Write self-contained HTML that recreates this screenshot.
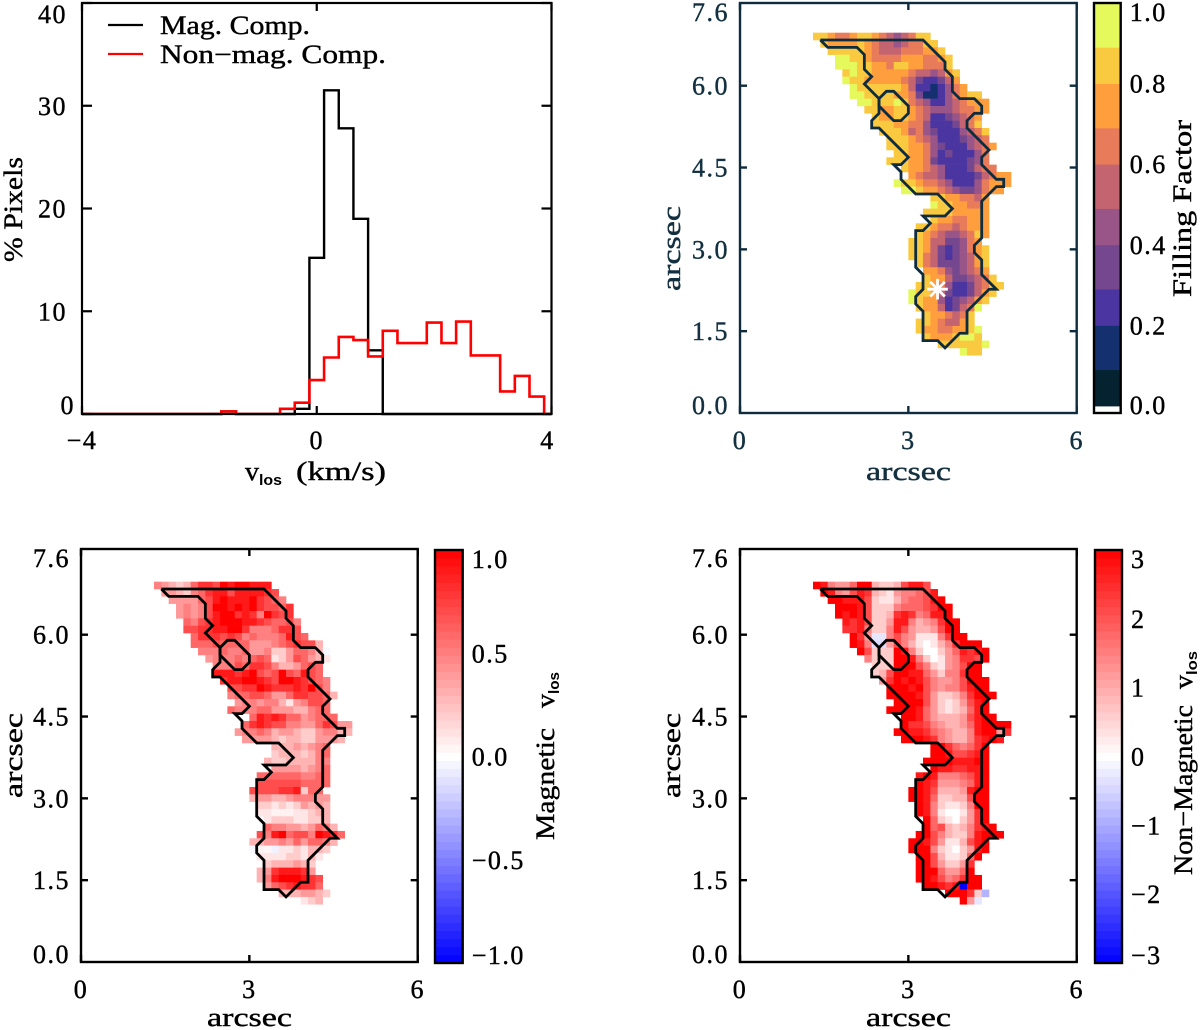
<!DOCTYPE html>
<html lang="en">
<head>
<meta charset="utf-8">
<title>Velocity histograms and maps</title>
<style>
html,body{margin:0;padding:0;background:#fff;}
svg{display:block;}
text{font-family:"Liberation Serif","DejaVu Serif",serif;font-size:26px;fill:#000;stroke:#000;stroke-width:.4px;}
.navy{fill:#12303f;stroke:#12303f;}
.tick{letter-spacing:1.5px;}
.sub{font-family:"Liberation Sans",sans-serif;font-size:15px;font-weight:bold;stroke-width:0;}
</style>
</head>
<body>
<svg id="figure" xmlns="http://www.w3.org/2000/svg" width="1200" height="1030" viewBox="0 0 1200 1030">
  <rect x="0" y="0" width="1200" height="1030" fill="#fff"/>
  <g id="marks"></g>

  <g>
    <line x1="108" y1="25" x2="143" y2="25" stroke="#000" stroke-width="2.2"/>
    <line x1="108" y1="54" x2="143" y2="54" stroke="#f00" stroke-width="2.2"/>
    <text x="160" y="34" textLength="150" lengthAdjust="spacingAndGlyphs">Mag. Comp.</text>
    <text x="160" y="63" textLength="226" lengthAdjust="spacingAndGlyphs">Non−mag. Comp.</text>
  </g>

  <g>
    <text x="245" y="480" textLength="14" lengthAdjust="spacingAndGlyphs">v</text>
    <text class="sub" x="259" y="485" textLength="23" lengthAdjust="spacingAndGlyphs">los</text>
    <text x="296" y="480" textLength="90" lengthAdjust="spacingAndGlyphs">(km/s)</text>
  </g>
  <text transform="translate(22,262) rotate(-90)" x="0" y="0" textLength="105" lengthAdjust="spacingAndGlyphs">% Pixels</text>

  <text class="navy" x="866" y="480" textLength="85" lengthAdjust="spacingAndGlyphs">arcsec</text>
  <text class="navy" transform="translate(680,291) rotate(-90)" x="0" y="0" textLength="85" lengthAdjust="spacingAndGlyphs">arcsec</text>
  <text transform="translate(1191,297) rotate(-90)" x="0" y="0" textLength="177" lengthAdjust="spacingAndGlyphs">Filling Factor</text>

  <text x="207" y="1026" textLength="85" lengthAdjust="spacingAndGlyphs">arcsec</text>
  <text transform="translate(22,798) rotate(-90)" x="0" y="0" textLength="85" lengthAdjust="spacingAndGlyphs">arcsec</text>
  <g transform="translate(554,840) rotate(-90)">
    <text x="0" y="0" textLength="112" lengthAdjust="spacingAndGlyphs">Magnetic</text>
    <text x="132" y="0" textLength="14" lengthAdjust="spacingAndGlyphs">v</text>
    <text class="sub" x="146" y="5" textLength="22" lengthAdjust="spacingAndGlyphs">los</text>
  </g>

  <text x="866" y="1026" textLength="85" lengthAdjust="spacingAndGlyphs">arcsec</text>
  <text transform="translate(680,798) rotate(-90)" x="0" y="0" textLength="85" lengthAdjust="spacingAndGlyphs">arcsec</text>
  <g transform="translate(1192,875) rotate(-90)">
    <text x="0" y="0" textLength="170" lengthAdjust="spacingAndGlyphs">Non−Magnetic</text>
    <text x="186" y="0" textLength="14" lengthAdjust="spacingAndGlyphs">v</text>
    <text class="sub" x="200" y="5" textLength="24" lengthAdjust="spacingAndGlyphs">los</text>
  </g>
</svg>

<script>
/* ---------- histogram data ---------- */
const velocityBins = [-4,-3.75,-3.5,-3.25,-3,-2.75,-2.5,-2.25,-2,-1.75,-1.5,-1.25,-1,-0.75,-0.5,-0.25,0,0.25,0.5,0.75,1,1.25,1.5,1.75,2,2.25,2.5,2.75,3,3.25,3.5,3.75,4];
const magPercent = [0,0,0,0,0,0,0,0,0,0,0.25,0,0,0,0,0.5,15.2,31.5,27.8,19,6.2,0,0,0,0,0,0,0,0,0,0,0,0];
const nonMagPercent = [0,0,0,0,0,0,0,0,0,0,0.25,0,0,0,0.5,1.1,3.3,5.5,7.5,7.2,5.6,8.1,6.9,6.9,8.9,6.9,9,5.7,5.7,2.2,3.7,1.7,0];
const histXTicks = [-4,0,4];
const histYTicks = [0,10,20,30,40];

/* ---------- shared map axes ---------- */
const arcsecXTicks = [0,3,6];
const arcsecYTicks = [0,1.5,3,4.5,6,7.6];

/* ---------- filling factor map (percent); each row begins at its first column ---------- */
const ffFirstCol = [0,1,2,3,3,4,4,5,5,6,7,8,8,9,10,10,11,10,12,13,11,12,16,16,15,16,14,14,13,13,13,14,15,15,14,13,13,14,15,14,14,15,17,20];
const ffValues = [
[85,85,75,65,65,75,85,85,75,65,55,45,55,65,85,85],
[85,75,75,75,75,85,75,65,55,55,45,55,65,65,85,85],
[85,85,85,85,85,75,65,55,55,55,65,65,65,75,75,85],
[95,95,85,85,75,65,65,65,65,75,75,75,65,65,75,85],
[95,95,95,85,85,75,75,65,85,85,75,75,65,65,65,85],
[85,95,85,85,75,75,75,75,75,65,55,55,45,55,75,85],
[95,85,85,75,75,75,75,75,65,55,35,25,25,35,55,75],
[95,85,85,85,85,85,85,75,55,25,25,15,25,45,65,75],
[95,95,85,85,85,85,75,75,65,35,15,15,25,45,65,75,85,85],
[95,95,85,85,85,95,85,65,55,45,25,25,45,55,65,75,75,75],
[85,85,75,75,85,85,75,65,55,45,45,45,55,65,65,75,75],
[85,75,75,85,85,75,65,55,25,25,35,45,55,65,75],
[85,85,85,75,75,65,65,45,25,25,25,35,55,65,85],
[85,85,85,75,55,65,45,35,25,25,25,45,55,65,85],
[85,85,85,75,65,55,45,25,25,25,35,45,55,65],
[85,85,85,75,75,65,45,35,25,25,25,45,55,65,75],
[85,85,75,75,65,45,25,35,25,25,25,45,65],
[85,85,85,75,75,65,35,25,25,25,25,35,45,65],
[85,75,75,65,55,45,25,25,25,35,55,65,65],
[75,65,55,55,45,25,25,25,25,35,55,65,75,75],
[95,85,85,75,65,65,55,45,25,25,25,45,65,75,75,75],
[95,95,85,75,75,65,55,45,35,35,45,65,75,75],
[85,85,75,75,65,65,55,75],
[95,85,85,75,75,65,65,75],
[85,85,85,85,75,75,75,75,75],
[85,75,75,65,65,75,75,75],
[85,85,75,65,65,55,65,75,75,75],
[85,75,65,55,45,45,55,65,85,75],
[85,85,75,55,55,35,35,45,65,75],
[85,85,75,55,35,25,35,45,65,75,85],
[85,85,65,55,35,25,35,45,55,75,85],
[85,65,55,35,35,35,45,55,75,85],
[75,75,65,45,35,45,55,65,75],
[85,75,75,55,35,35,45,55,65,85],
[85,85,75,65,45,25,25,35,55,65,85,85],
[95,85,85,75,55,35,25,25,35,55,75,85],
[95,85,75,75,45,25,35,45,55,75,85],
[85,75,75,55,25,35,55,65,95],
[85,75,75,65,55,65,85],
[85,85,75,65,55,55,75,85],
[85,75,75,65,65,75,75,85,95],
[85,75,75,75,85,95,95,85],
[85,85,85,85,85,85,95],
[95,85,85]
];

/* ---------- magnetic velocity map (tenths of km/s) ---------- */
const magFirstCol = [0,1,2,3,3,4,4,5,5,6,7,8,8,9,10,10,11,10,13,12,11,12,16,16,15,16,14,14,13,13,14,14,15,15,14,13,13,14,15,14,14,15,17,20];
const magValues = [
[5,4,3,2,3,6,8,8,7,10,9,10,10,9,9,9],
[4,4,3,2,5,6,8,9,9,7,9,9,9,9,8,7],
[4,4,4,4,6,7,9,10,9,9,9,10,8,7,6,5],
[4,5,4,5,7,10,10,9,10,9,10,8,7,7,6,8],
[4,5,4,5,7,9,10,10,8,9,8,5,10,8,7,8],
[6,5,7,8,9,10,10,10,9,9,8,7,6,6,7,5],
[7,7,8,8,9,9,10,10,8,5,5,5,6,8,8,7],
[6,8,8,8,7,8,7,5,6,5,5,5,6,9,7,6],
[6,6,6,7,6,6,6,6,4,4,4,5,6,7,8,7,7,3],
[5,5,5,6,5,5,6,4,4,5,2,2,4,6,6,5,3,-0.3],
[4,5,5,5,6,5,6,7,6,1,2,4,7,6,4,3,1],
[5,5,5,7,6,8,8,7,5,3,3,4,6,7,6],
[9,9,9,8,9,10,7,6,7,10,7,6,9,7,6],
[8,9,9,10,10,9,8,7,10,10,9,8,7,6,5],
[7,7,8,8,10,9,8,8,8,9,8,10,7,5],
[5,6,6,7,7,6,4,4,6,8,8,7,7,6,3],
[4,5,5,4,5,5,3,1,4,5,7,7,6],
[6,5,5,5,6,6,4,4,4,3,3,5,6,6],
[6,9,8,9,8,6,6,4,5,6,6,6],
[6,8,9,8,7,7,5,5,4,4,6,8,7,4,4],
[4,5,5,6,5,3,4,4,3,2,2,4,5,5,3,3],
[4,4,4,4,3,2,3,3,2,2,4,4,4,3],
[3,3,3,4,3,4,5,6],
[2,3,3,3,2,3,5,6],
[3,2,2,3,3,3,3,5,5],
[4,4,4,4,3,4,5,6],
[6,6,6,6,6,6,5,5,6,6],
[7,7,7,7,7,7,6,6,6,6],
[7,7,7,7,8,8,9,2,6,6],
[3,4,4,3,3,4,5,5,5,4,4],
[2,2,1,2,1,2,4,3,4,3],
[1,1,0.5,0.5,0.5,1,1,2,3,3],
[1,2,2,2,1,1,2,2,3],
[6,5,5,4,4,3,4,6,5,3],
[7,5,9,10,6,7,7,5,10,9,8,6],
[3,3,4,4,5,4,6,4,6,6,5,3],
[-0.3,0.5,0.3,-0.5,1,1,2,1,3,3,2],
[1,1,1,1,2,2,1,3,1],
[2,3,3,3,4,3,2],
[3,4,8,9,9,9,8,4],
[3,5,9,10,10,10,9,8,7],
[4,6,7,8,9,8,8,6],
[3,3,3,4,4,3,2],
[1,2,3]
];

/* ---------- non-magnetic velocity map (tenths of km/s) ---------- */
const nonMagFirstCol = [0,1,2,3,3,4,4,5,5,6,7,8,8,9,10,10,11,10,12,12,11,12,16,16,15,16,14,14,13,13,14,14,15,15,14,13,13,14,14,14,14,15,18,20];
const nonMagValues = [
[30,27,15,12,12,18,30,30,9,6,6,9,21,27,27,21],
[30,27,15,12,21,27,24,9,6,3,12,15,15,18,21,27],
[30,30,27,27,27,21,6,3,3,9,15,18,18,21,27,30],
[30,30,30,27,21,6,6,6,15,18,18,18,21,24,30,30],
[30,27,30,27,21,6,6,9,24,27,24,15,18,27,27,30],
[27,24,27,21,6,6,12,27,27,15,9,12,15,24,30,30],
[24,24,27,15,6,6,15,27,21,12,9,9,12,21,30,30],
[30,24,12,-3,-3,15,21,15,12,3,3,3,15,24,30,30],
[30,27,15,-4,-4,12,21,15,9,3,0,3,9,15,24,30,30,30],
[30,21,6,6,6,30,27,15,6,0,0,6,12,18,27,24,27,30],
[15,6,6,6,30,30,27,15,6,0,3,12,15,24,24,21,30],
[6,6,6,30,30,30,21,15,6,3,12,15,21,30,30],
[6,9,21,30,30,27,27,18,12,6,15,15,24,30,30],
[12,24,30,27,30,27,21,15,12,12,15,21,30,30,30],
[30,30,30,27,30,21,15,12,15,15,21,27,30,30],
[30,30,30,30,27,21,12,6,6,9,15,24,30,30,30],
[30,30,30,30,21,12,6,3,6,12,21,27,30],
[30,30,30,30,27,18,12,6,3,6,9,18,27,30],
[30,30,27,18,12,9,9,9,12,21,27,30,30],
[30,24,24,21,15,12,9,9,12,18,27,30,30,30,30],
[30,30,27,27,24,18,15,12,9,9,15,27,30,30,12,24],
[30,30,30,27,24,15,12,9,9,15,24,27,30,27],
[30,30,24,18,15,18,24,30],
[30,30,27,21,21,24,27,30],
[30,30,30,30,27,27,27,30,30],
[30,27,27,24,24,27,27,30],
[27,30,27,15,15,15,18,21,27,30],
[30,27,24,12,12,12,15,18,27,30],
[30,30,27,21,9,9,9,12,27,30,30],
[30,30,27,18,6,6,9,9,21,30,30],
[30,27,15,6,3,3,6,15,30,30],
[30,27,15,3,0,0,3,12,24,30],
[30,18,6,3,0,6,12,24,30],
[30,18,21,9,6,9,15,24,27,30],
[30,30,21,15,9,6,6,15,27,30,30,30],
[30,30,27,21,12,3,3,9,21,27,30],
[30,30,30,15,6,3,0,6,12,27,30],
[30,30,21,9,3,3,6,18,30],
[30,30,21,12,6,6,12,24],
[30,30,30,18,12,12,18,30],
[30,30,27,21,15,18,24,30,30],
[30,30,27,24,27,-30,30,30],
[30,30,30,24,6,-9],
[30,12,-3]
];

/* ---------- contour of the magnetic region, in map grid coordinates ---------- */
const contourCols = [1,15,18,18,19,19,20,22,23,23,22,21,21,24,23,23,25,26,26,25,23,23,22,22,23,23,25,24,21,21,20,18,17,15,15,14,14,15,15,14,14,15,16,15,18,19,17,14,12,12,11,12,13,9,8,8,9,9,7,8,7,7,6,2,1];
const contourRows = [1,1,4,5,6,8,9,9,10,11,11,12,13,16,17,18,20,20,21,21,23,28,29,30,31,33,35,35,38,41,41,43,42,42,38,37,36,35,33,32,27,27,26,25,25,24,22,22,20,19,18,18,17,13,13,12,11,9,7,6,5,3,2,2,1];
const islandCols = [9,10,11,13,13,12,11,9,9];
const islandRows = [9,8,8,10,11,12,12,10,9];

/* ---------- colour bars ---------- */
const ffBandEdges = [0,0.09,0.2,0.29,0.4,0.49,0.6,0.69,0.8,0.89,1.0];
const ffBandPalette = ['#04222f','#14306f','#4b35a0','#74478e','#9a5588','#c36470','#e87b5a','#ff9e3c','#f9c940','#e5f95c'];
const ffBarTicks = [0,0.2,0.4,0.6,0.8,1.0];
const magBarTicks = [-1,-0.5,0,0.5,1];
const nonMagBarTicks = [-3,-2,-1,0,1,2,3];

/* ---------- helpers ---------- */
const NS = 'http://www.w3.org/2000/svg';
const marks = document.getElementById('marks');
function mk(tag, parent, name, attrs) {
  const el = document.createElementNS(NS, tag);
  
  
  for (const k in attrs) el.setAttribute(k, attrs[k]);
  parent.appendChild(el);
  return el;
}
function label(parent, name, str, x, y, anchor, cls) {
  const el = mk('text', parent, name, {x: x, y: y, 'text-anchor': anchor, class: 'tick ' + (cls || '')});
  el.textContent = str;
  return el;
}
function clamp(v, a, b) { return Math.max(a, Math.min(b, v)); }
function fmt(v, digits) { return (v < 0 ? '\u2212' : '') + Math.abs(v).toFixed(digits); }
function lerpScale(d0, d1, r0, r1) { return v => r0 + (v - d0) / (d1 - d0) * (r1 - r0); }

function ffColor(pct) {
  const v = pct / 100;
  for (let i = 0; i < ffBandPalette.length; i++) {
    if (v <= ffBandEdges[i + 1]) return ffBandPalette[i];
  }
  return ffBandPalette[ffBandPalette.length - 1];
}
function divergingColor(t) {
  t = clamp(t, -1, 1);
  const s = Math.round(255 * (1 - Math.abs(t)));
  return t >= 0 ? `rgb(255,${s},${s})` : `rgb(${s},${s},255)`;
}

/* ---------- histogram ---------- */
(function () {
  const box = {l: 82, r: 551.5, t: 3, b: 414};
  const g = mk('g', marks, 'histogram-panel', {});
  const x = lerpScale(-4, 4, box.l, box.r);
  const y = lerpScale(0, 40, box.b, box.t);
  const half = 0.125;
  function stepPath(vals) {
    let d = '';
    velocityBins.forEach((c, i) => {
      const a = clamp(c - half, -4, 4), b = clamp(c + half, -4, 4);
      d += (i ? 'L' : 'M') + x(a).toFixed(2) + ' ' + y(vals[i]).toFixed(2) + 'L' + x(b).toFixed(2) + ' ' + y(vals[i]).toFixed(2);
    });
    return d;
  }
  mk('path', g, 'histogram-line-magnetic', {d: stepPath(magPercent), fill: 'none', stroke: '#000', 'stroke-width': 2.4});
  mk('path', g, 'histogram-line-non-magnetic', {d: stepPath(nonMagPercent), fill: 'none', stroke: '#f00', 'stroke-width': 2.6});
  mk('rect', g, 'histogram-frame', {x: box.l, y: box.t, width: box.r - box.l, height: box.b - box.t, fill: 'none', stroke: '#000', 'stroke-width': 2.2});
  histXTicks.forEach(v => {
    const px = x(v);
    mk('line', g, 'x-tick-bottom', {x1: px, x2: px, y1: box.b, y2: box.b - 8, stroke: '#000', 'stroke-width': 2.2});
    mk('line', g, 'x-tick-top', {x1: px, x2: px, y1: box.t, y2: box.t + 8, stroke: '#000', 'stroke-width': 2.2});
    label(g, 'x-tick-label', fmt(v, 0), clamp(px, box.l - 1, box.r - 4), 449, 'middle');
  });
  histYTicks.forEach(v => {
    const py = y(v);
    mk('line', g, 'y-tick-left', {x1: box.l, x2: box.l + 10, y1: py, y2: py, stroke: '#000', 'stroke-width': 2.2});
    mk('line', g, 'y-tick-right', {x1: box.r, x2: box.r - 10, y1: py, y2: py, stroke: '#000', 'stroke-width': 2.2});
    label(g, 'y-tick-label', fmt(v, 0), v === 0 ? 75 : 67, clamp(py, box.t + 11, box.b - 9) + 9, 'end');
  });
})();

/* ---------- map panels ---------- */
const ROW0_ARCSEC = 6.972, COL0_ARCSEC = 1.301, CELL_X = 0.1307, CELL_Y = 0.1344;
function drawMap(opts) {
  const box = opts.box;
  const g = mk('g', marks, opts.name + '-panel', {});
  const x = lerpScale(0, 6, box.l, box.r);
  const y = lerpScale(0, 7.5, box.b, box.b - 7.5 * 54.55);
  const colX = c => x(COL0_ARCSEC + c * CELL_X);
  const rowY = r => y(ROW0_ARCSEC - r * CELL_Y);
  opts.values.forEach((row, r) => {
    row.forEach((v, i) => {
      const c = opts.firstCol[r] + i;
      const cell = mk('rect', g, opts.name + '-cell', {
        x: colX(c).toFixed(2), y: rowY(r).toFixed(2),
        width: (colX(c + 1) - colX(c) + 0.3).toFixed(2), height: (rowY(r + 1) - rowY(r) + 0.3).toFixed(2),
        fill: opts.color(v)
      });
    });
  });
  const pathOf = (cs, rs) => cs.map((c, i) => (i ? 'L' : 'M') + colX(c).toFixed(2) + ' ' + rowY(rs[i]).toFixed(2)).join('') ;
  mk('path', g, opts.name + '-contour', {d: pathOf(contourCols, contourRows), fill: 'none', stroke: opts.ink, 'stroke-width': 2.8, 'stroke-linejoin': 'miter'});
  mk('path', g, opts.name + '-contour-island', {d: pathOf(islandCols, islandRows), fill: 'none', stroke: opts.ink, 'stroke-width': 2.8});
  if (opts.after) opts.after(g, x, y);
  mk('rect', g, opts.name + '-frame', {x: box.l, y: box.t, width: box.r - box.l, height: box.b - box.t, fill: 'none', stroke: opts.ink, 'stroke-width': 2.4});
  arcsecXTicks.forEach(v => {
    const px = x(v);
    mk('line', g, opts.name + '-x-tick', {x1: px, x2: px, y1: box.b, y2: box.b - 7, stroke: opts.ink, 'stroke-width': 2.4});
    mk('line', g, opts.name + '-x-tick-top', {x1: px, x2: px, y1: box.t, y2: box.t + 7, stroke: opts.ink, 'stroke-width': 2.4});
    label(g, opts.name + '-x-tick-label', fmt(v, 0), px, box.b + 36, 'middle', opts.cls);
  });
  arcsecYTicks.forEach(v => {
    const py = y(v);
    if (v > 0 && v < 7) {
      mk('line', g, opts.name + '-y-tick', {x1: box.l, x2: box.l + 7, y1: py, y2: py, stroke: opts.ink, 'stroke-width': 2.4});
      mk('line', g, opts.name + '-y-tick-right', {x1: box.r, x2: box.r - 7, y1: py, y2: py, stroke: opts.ink, 'stroke-width': 2.4});
    }
    label(g, opts.name + '-y-tick-label', v.toFixed(1), box.l - 11, clamp(py, box.t + 9, box.b - 8) + 9, 'end', opts.cls);
  });
}

function drawBar(opts) {
  const b = opts.box;
  const g = mk('g', marks, opts.name + '-colorbar', {});
  const y = lerpScale(opts.min, opts.max, opts.bottom, b.t);
  opts.bands.forEach(bd => {
    const y1 = y(bd.hi), y0 = y(bd.lo);
    mk('rect', g, opts.name + '-colorbar-band', {x: b.l, y: y1.toFixed(2), width: b.r - b.l, height: (y0 - y1 + 0.4).toFixed(2), fill: bd.fill});
  });
  mk('rect', g, opts.name + '-colorbar-frame', {x: b.l, y: b.t, width: b.r - b.l, height: b.b - b.t, fill: 'none', stroke: '#000', 'stroke-width': 2.4});
  opts.ticks.forEach(v => {
    label(g, opts.name + '-colorbar-label', fmt(v, opts.digits), b.r + opts.gap, clamp(y(v), b.t + 9, b.b - 8) + 9, 'start');
  });
}

drawMap({
  name: 'filling-factor', box: {l: 740, r: 1076.7, t: 3, b: 413},
  values: ffValues, firstCol: ffFirstCol, color: ffColor, ink: '#0e2c3e', cls: 'navy',
  after: function (g, x, y) {
    const starG = mk('g', g, 'reference-star', {});
    const cx = x(3.52), cy = y(2.27);
    [0, 45, 90, 135].forEach(a => {
      const dx = 10.3 * Math.cos(a * Math.PI / 180), dy = 10.3 * Math.sin(a * Math.PI / 180);
      mk('line', starG, 'star-arm', {x1: cx - dx, y1: cy - dy, x2: cx + dx, y2: cy + dy, stroke: '#fff', 'stroke-width': 2.8});
    });
  }
});
drawMap({
  name: 'magnetic-velocity', box: {l: 81, r: 417.7, t: 549, b: 962},
  values: magValues, firstCol: magFirstCol, color: v => divergingColor(v / 10), ink: '#000', cls: ''
});
drawMap({
  name: 'non-magnetic-velocity', box: {l: 740, r: 1076.7, t: 549, b: 962},
  values: nonMagValues, firstCol: nonMagFirstCol, color: v => divergingColor(v / 30), ink: '#000', cls: ''
});

const ffBands = ffBandPalette.map((c, i) => ({lo: ffBandEdges[i], hi: ffBandEdges[i + 1], fill: c}));
drawBar({name: 'filling-factor', box: {l: 1094, r: 1120.7, t: 3, b: 413}, bottom: 406, min: 0, max: 1, bands: ffBands, ticks: ffBarTicks, digits: 1, gap: 9});

function divergingBands(lim, n) {
  const out = [];
  for (let i = 0; i < n; i++) {
    const lo = -lim + 2 * lim * i / n, hi = -lim + 2 * lim * (i + 1) / n;
    out.push({lo: lo, hi: hi, fill: divergingColor((lo + hi) / 2 / lim)});
  }
  return out;
}
drawBar({name: 'magnetic-velocity', box: {l: 435, r: 462.7, t: 550, b: 963}, bottom: 963, min: -1, max: 1, bands: divergingBands(1, 51), ticks: magBarTicks, digits: 1, gap: 9});
drawBar({name: 'non-magnetic-velocity', box: {l: 1095, r: 1122, t: 550, b: 963}, bottom: 963, min: -3, max: 3, bands: divergingBands(3, 51), ticks: nonMagBarTicks, digits: 0, gap: 9});
</script>
</body>
</html>
